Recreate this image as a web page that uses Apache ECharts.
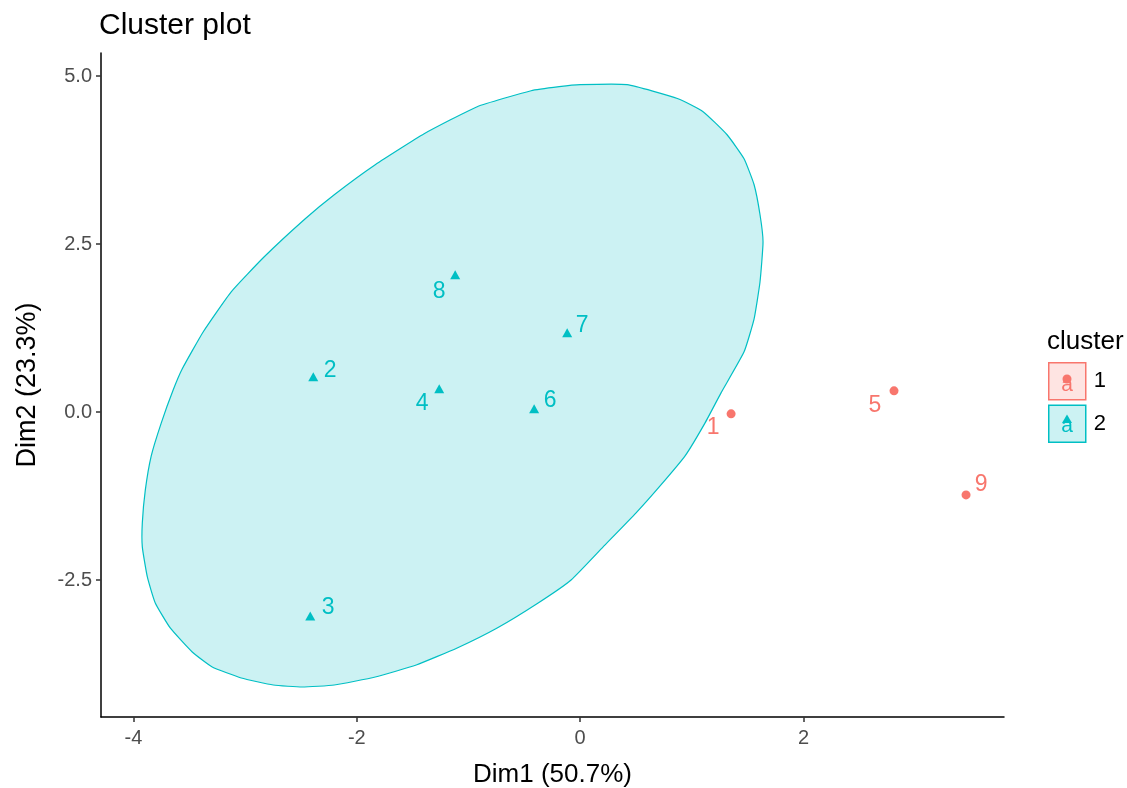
<!DOCTYPE html>
<html>
<head>
<meta charset="utf-8">
<script src="https://cdn.jsdelivr.net/npm/echarts@6/dist/echarts.min.js"></script>
<style>
html,body{margin:0;padding:0;background:#fff;}
#chart{width:1127px;height:788px;}
</style>
</head>
<body>
<div id="chart"></div>
<script>
// ---- data ----
const pointNames = ['1','2','3','4','5','6','7','8','9'];
const dim1 = [1.352, -2.390, -2.417, -1.262, 2.811, -0.412, -0.116, -1.119, 3.456];
const dim2 = [-0.025, 0.525, -3.031, 0.347, 0.317, 0.049, 1.180, 2.043, -1.231];
const clusterOf = [1, 2, 2, 2, 1, 2, 2, 2, 1];
const clusterNames = ['1', '2'];

// ellipse boundary for cluster 2
const ellipseX = [0.421, 0.000, -0.188, -0.439, -0.922, -1.397, -1.835, -2.202, -2.462, -2.829, -3.125, -3.375, -3.563, -3.644, -3.751, -3.841, -3.894, -3.921, -3.921, -3.876, -3.805, -3.671, -3.474, -3.295, -3.035, -2.748, -2.489, -2.202, -1.835, -1.468, -1.101, -0.743, -0.376, -0.081, 0.206, 0.501, 0.716, 0.940, 1.119, 1.262, 1.468, 1.558, 1.611, 1.638, 1.611, 1.558, 1.468, 1.316, 1.101, 0.877];
const ellipseY = [4.871, 4.871, 4.841, 4.781, 4.543, 4.141, 3.680, 3.234, 2.877, 2.311, 1.790, 1.196, 0.645, 0.332, -0.159, -0.650, -1.156, -1.647, -2.004, -2.451, -2.838, -3.210, -3.567, -3.790, -3.954, -4.058, -4.088, -4.058, -3.939, -3.760, -3.507, -3.210, -2.838, -2.496, -2.004, -1.498, -1.097, -0.650, -0.159, 0.287, 0.897, 1.388, 1.939, 2.534, 2.936, 3.382, 3.769, 4.126, 4.469, 4.662];

const xTicks = [-4, -2, 0, 2];
const xTickLabels = ['-4', '-2', '0', '2'];
const yTicks = [-2.5, 0, 2.5, 5];
const yTickLabels = ['-2.5', '0.0', '2.5', '5.0'];

// ---- styling / layout ----
const colors = { '1': '#F8766D', '2': '#00BFC4' };
const fills = { '1': 'rgba(248,118,109,0.2)', '2': 'rgba(0,191,196,0.2)' };
const symbols = { '1': 'circle', '2': 'triangle' };
const symbolSizes = { '1': 9, '2': [10, 9] };
const labelOffsets = {
  '1': [-18, 14], '2': [17, -6], '3': [18, -8], '4': [-17, 15], '5': [-19, 15],
  '6': [16, -8], '7': [15, -7], '8': [-16, 17], '9': [15, -10]
};
const FONT = 'Liberation Sans, Arial, sans-serif';

const chart = echarts.init(document.getElementById('chart'), null, { renderer: 'canvas' });

const scatterSeries = clusterNames.map(c => ({
  type: 'scatter',
  name: c,
  z: 3,
  symbol: symbols[c],
  symbolSize: symbolSizes[c],
  itemStyle: { color: colors[c], opacity: 1 },
  label: {
    show: true,
    position: 'inside',
    formatter: p => p.name,
    color: colors[c],
    fontSize: 23,
    fontFamily: FONT
  },
  emphasis: { disabled: true },
  data: pointNames.map((n, i) => ({ n, i })).filter(o => String(clusterOf[o.i]) === c).map(o => ({
    name: o.n,
    value: [dim1[o.i], dim2[o.i]],
    label: { offset: labelOffsets[o.n] }
  }))
}));

const ellipseSeries = {
  type: 'custom',
  name: 'ellipse2',
  z: 1,
  silent: true,
  encode: { x: 0, y: 1 },
  data: ellipseX.map((x, i) => [x, ellipseY[i]]),
  renderItem: function (params, api) {
    if (params.dataIndex !== 0) return null;
    const pts = ellipseX.map((x, i) => api.coord([x, ellipseY[i]]));
    return {
      type: 'polygon',
      shape: { points: pts, smooth: 0.15 },
      style: { fill: fills['2'], stroke: colors['2'], lineWidth: 1.2 }
    };
  }
};

// legend key decorations
const keyBoxTop = [362, 403];
const keyCx = 1067, keyH = 37;
const graphics = [
  { type: 'text', left: 1047, top: 329, style: { text: 'cluster', fontSize: 26, fontFamily: FONT, fill: '#000' } }
];
clusterNames.forEach((c, k) => {
  const cy = keyBoxTop[k] + keyH / 2;
  graphics.push({ type: 'text', x: keyCx, y: cy + 5, style: { text: 'a', fontSize: 21, fontFamily: FONT, fill: colors[c], align: 'center', verticalAlign: 'middle' }, z: 10 });
  if (c === '1') {
    graphics.push({ type: 'circle', shape: { cx: keyCx, cy: cy - 1.5, r: 4.5 }, style: { fill: colors[c] }, z: 11 });
  } else {
    graphics.push({ type: 'polygon', shape: { points: [[keyCx, cy - 7], [keyCx - 5, cy + 1.5], [keyCx + 5, cy + 1.5]] }, style: { fill: colors[c] }, z: 11 });
  }
});

const option = {
  animation: false,
  backgroundColor: '#fff',
  title: {
    text: 'Cluster plot',
    left: 99,
    top: 11,
    padding: 0,
    textStyle: { fontSize: 30, fontWeight: 'normal', color: '#000', fontFamily: FONT }
  },
  legend: {
    orient: 'vertical',
    left: 1048,
    top: 362,
    padding: 0,
    itemWidth: 37,
    itemHeight: 37,
    itemGap: 4,
    selectedMode: false,
    textStyle: { fontSize: 22, color: '#000', fontFamily: FONT, padding: [0, 0, 0, 3] },
    data: clusterNames.map(c => ({
      name: c,
      icon: 'rect',
      itemStyle: { color: fills[c], borderColor: colors[c], borderWidth: 1.5, opacity: 1 }
    }))
  },
  grid: { left: 101, right: 123, top: 53, bottom: 71, containLabel: false, outerBoundsMode: 'none' },
  xAxis: {
    type: 'value',
    min: -4.291,
    max: 3.796,
    name: 'Dim1 (50.7%)',
    nameLocation: 'middle',
    nameGap: 45,
    nameTextStyle: { fontSize: 26, color: '#000', fontFamily: FONT },
    axisLine: { show: true, onZero: false, lineStyle: { color: '#000', width: 1.5 } },
    axisTick: { show: true, length: 5, customValues: xTicks, lineStyle: { color: '#333', width: 1.5 } },
    axisLabel: {
      customValues: xTicks,
      margin: 11,
      fontSize: 20,
      color: '#4D4D4D',
      fontFamily: FONT,
      formatter: v => { const i = xTicks.indexOf(v); return i >= 0 ? xTickLabels[i] : ''; }
    },
    splitLine: { show: false }
  },
  yAxis: {
    type: 'value',
    min: -4.534,
    max: 5.342,
    name: 'Dim2 (23.3%)',
    nameLocation: 'middle',
    nameGap: 60,
    nameTextStyle: { fontSize: 27, color: '#000', fontFamily: FONT },
    axisLine: { show: true, onZero: false, lineStyle: { color: '#000', width: 1.5 } },
    axisTick: { show: true, length: 5, customValues: yTicks, lineStyle: { color: '#333', width: 1.5 } },
    axisLabel: {
      customValues: yTicks,
      margin: 9,
      fontSize: 20,
      color: '#4D4D4D',
      fontFamily: FONT,
      formatter: v => { const i = yTicks.indexOf(v); return i >= 0 ? yTickLabels[i] : ''; }
    },
    splitLine: { show: false }
  },
  graphic: graphics,
  series: [ellipseSeries].concat(scatterSeries)
};

chart.setOption(option);
</script>
</body>
</html>
